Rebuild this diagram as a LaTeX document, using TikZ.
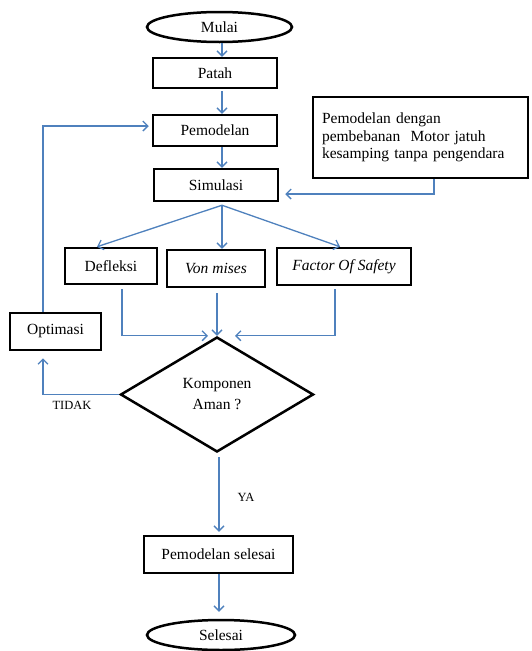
\documentclass[tikz,border=0pt]{standalone}
\usepackage{fontspec}
\setmainfont{Liberation Serif}
\usetikzlibrary{shapes.geometric,arrows.meta}
\definecolor{flowblue}{RGB}{79,129,189}
\tikzset{
  box/.style={draw=black, line width=2.5pt, rectangle, inner sep=0pt, font=\fontsize{15.5}{17.5}\selectfont},
  term/.style={draw=black, line width=2.5pt, ellipse, inner sep=0pt, font=\fontsize{15.5}{17.5}\selectfont},
  decide/.style={draw=black, line width=2.5pt, diamond, inner sep=0pt, align=center, font=\fontsize{15.5}{21}\selectfont},
  arr/.style={draw=flowblue, line width=1.3pt, -{Straight Barb[length=5pt,width=10pt]}},
  lbl/.style={font=\fontsize{12.5}{14}\selectfont, inner sep=0pt}
}
\begin{document}
\begin{tikzpicture}[x=1pt,y=-1pt]
\useasboundingbox (0,0) rectangle (532,651);
\coordinate (fx) at (222,0);
\coordinate (lx) at (43,0);

\node[term, minimum width=145, minimum height=30] (mulai) at (219.5,27) {Mulai};
\node[box, minimum width=124, minimum height=30] (patah) at (215,73) {Patah};
\node[box, minimum width=124, minimum height=31] (pemodelan) at (215,130.5) {Pemodelan};
\node[box, minimum width=124, minimum height=32] (simulasi) at (216,185) {Simulasi};
\node[box, minimum width=215, minimum height=81, text width=197, align=left] (note) at (420.5,137.5)
  {Pemodelan dengan\\pembebanan~ Motor jatuh\\kesamping tanpa pengendara\\[4pt]};

\node[box, minimum width=92, minimum height=36] (defleksi) at (111,266) {Defleksi};
\node[box, minimum width=98, minimum height=37] (vonmises) at (216,268.5) {\itshape Von mises};
\node[box, minimum width=134, minimum height=37] (fos) at (344,266.5) {\itshape Factor Of Safety};
\node[box, minimum width=91, minimum height=37] (optimasi) at (55.5,331.5) {Optimasi};

\node[decide, minimum width=193, minimum height=115, aspect=1.68] (aman) at (217,394.5) {Komponen\\Aman ?};

\node[box, minimum width=149, minimum height=37] (selesaibox) at (218.5,554.5) {Pemodelan selesai};
\node[term, minimum width=148, minimum height=30] (selesai) at (221,635) {Selesai};

% main flow
\draw[arr] (mulai.south -| fx) -- (patah.north -| fx);
\draw[arr] ([yshift=-2pt]patah.south -| fx) -- (pemodelan.north -| fx);
\draw[arr] (pemodelan.south -| fx) -- (simulasi.north -| fx);

% note to simulasi
\draw[arr, shorten >=6pt] (note.south -| 434,0) |- (simulasi.east |- 0,194);

% simulasi branches
\draw[arr] ([yshift=-3pt]simulasi.south -| fx) -- ([xshift=-14pt]defleksi.north);
\draw[arr] ([yshift=-3pt]simulasi.south -| fx) -- (vonmises.north -| fx);
\draw[arr] ([yshift=-3pt]simulasi.south -| fx) -- ([xshift=-4pt]fos.north);

% results to decision
\draw[arr, shorten >=9pt] ([yshift=-4pt]defleksi.south -| 122,0) |- (aman.north);
\draw[arr] ([yshift=-5pt]vonmises.south -| aman.north) -- (aman.north);
\draw[arr, shorten >=18pt] ([yshift=-3pt]fos.south -| 335,0) |- (aman.north);

% TIDAK loop
\draw[arr, shorten >=7pt] (aman.west) -| (optimasi.south -| lx);
\node[lbl] (tidak) at (72,405.5) {TIDAK};
\draw[arr, shorten >=3pt] (optimasi.north -| lx) |- ([yshift=4.5pt]pemodelan.west);

% YA
\draw[arr, shorten <=4pt, shorten >=3pt] (aman.south -| 219,0) -- (selesaibox.north -| 219,0);
\node[lbl] (ya) at (246,497.5) {YA};
\draw[arr, shorten >=7pt] (selesaibox.south -| 219,0) -- (selesai.north -| 219,0);
\end{tikzpicture}
\end{document}
